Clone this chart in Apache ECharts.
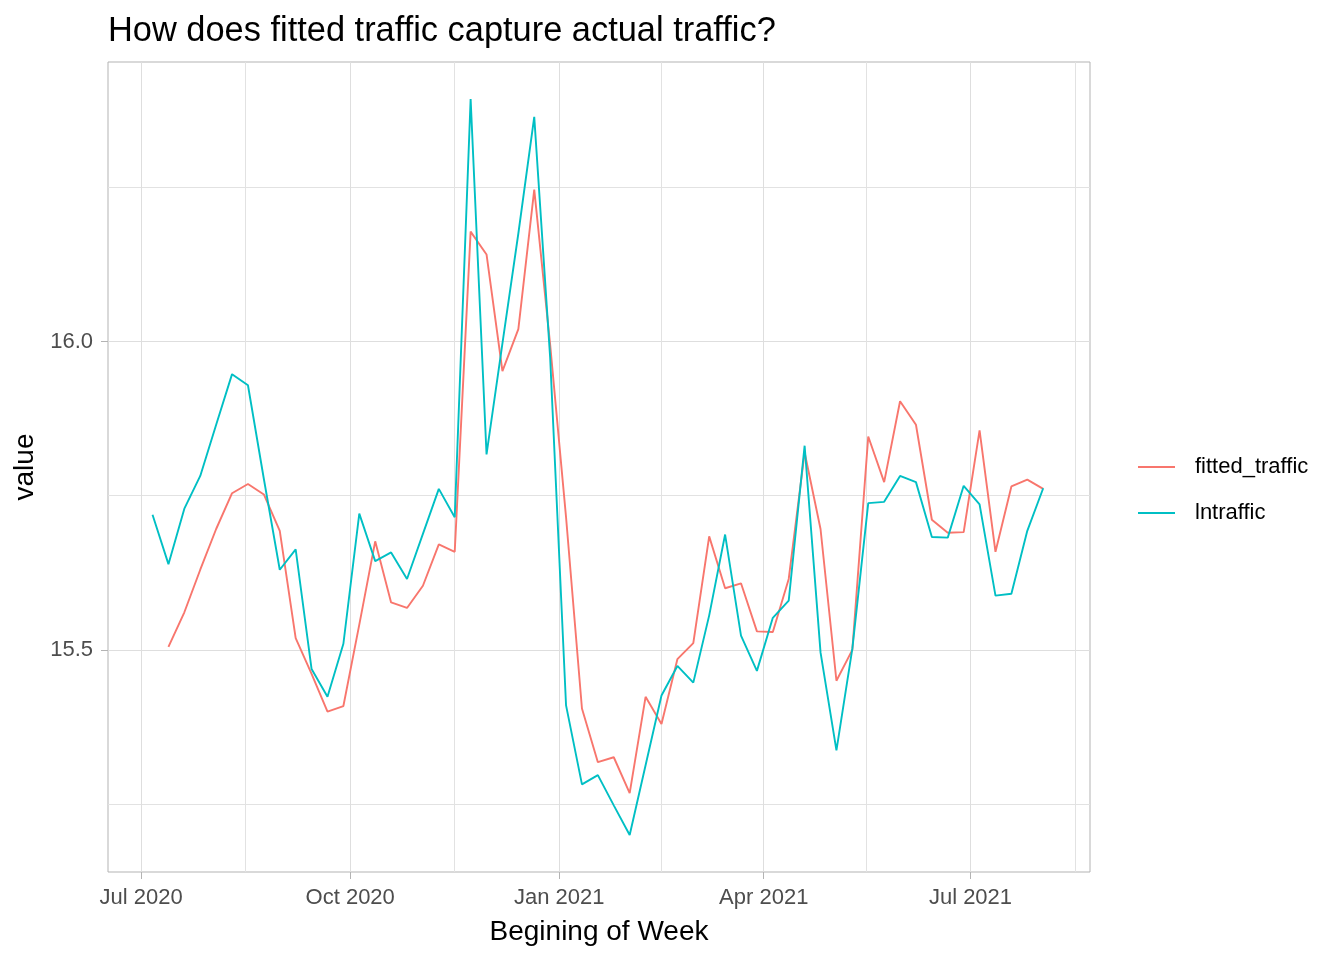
<!DOCTYPE html>
<html>
<head>
<meta charset="utf-8">
<script src="https://cdn.jsdelivr.net/npm/echarts@6/dist/echarts.min.js"></script>
<style>html,body{margin:0;padding:0;background:#fff}#c{width:1344px;height:960px}</style>
</head>
<body>
<div id="c"></div>
<script>
// ---- data ----
const weekDates = [
  '2020-07-06','2020-07-13','2020-07-20','2020-07-27','2020-08-03','2020-08-10','2020-08-17','2020-08-24','2020-08-31',
  '2020-09-07','2020-09-14','2020-09-21','2020-09-28','2020-10-05','2020-10-12','2020-10-19','2020-10-26',
  '2020-11-02','2020-11-09','2020-11-16','2020-11-23','2020-11-30','2020-12-07','2020-12-14','2020-12-21','2020-12-28',
  '2021-01-04','2021-01-11','2021-01-18','2021-01-25','2021-02-01','2021-02-08','2021-02-15','2021-02-22',
  '2021-03-01','2021-03-08','2021-03-15','2021-03-22','2021-03-29','2021-04-05','2021-04-12','2021-04-19','2021-04-26',
  '2021-05-03','2021-05-10','2021-05-17','2021-05-24','2021-05-31','2021-06-07','2021-06-14','2021-06-21','2021-06-28',
  '2021-07-05','2021-07-12','2021-07-19','2021-07-26','2021-08-02'
];
const lntraffic = [
  15.719, 15.639, 15.729, 15.782, 15.865, 15.947, 15.929, 15.777, 15.630,
  15.663, 15.469, 15.424, 15.510, 15.721, 15.644, 15.658, 15.615,
  15.688, 15.761, 15.715, 16.393, 15.817, 15.997, 16.175, 16.364, 15.974,
  15.410, 15.282, 15.297, 15.248, 15.200, 15.313, 15.426, 15.474,
  15.447, 15.556, 15.687, 15.523, 15.466, 15.552, 15.580, 15.831, 15.496,
  15.337, 15.502, 15.738, 15.740, 15.782, 15.772, 15.683, 15.682, 15.766,
  15.736, 15.588, 15.591, 15.693, 15.762
];
const fittedTraffic = [
  null, 15.505, 15.561, 15.630, 15.696, 15.754, 15.769, 15.752, 15.693,
  15.519, 15.461, 15.400, 15.409, 15.541, 15.676, 15.577, 15.568,
  15.604, 15.671, 15.659, 16.178, 16.141, 15.952, 16.020, 16.246, 15.995,
  15.715, 15.405, 15.318, 15.326, 15.268, 15.424, 15.380, 15.485,
  15.511, 15.684, 15.600, 15.608, 15.530, 15.529, 15.615, 15.820, 15.696,
  15.450, 15.500, 15.846, 15.772, 15.903, 15.865, 15.711, 15.690, 15.691,
  15.856, 15.659, 15.765, 15.776, 15.761
];
const xTickDates = ['2020-07-01','2020-10-01','2021-01-01','2021-04-01','2021-07-01'];
const xTickLabels = ['Jul 2020','Oct 2020','Jan 2021','Apr 2021','Jul 2021'];
const xMinorDates = ['2020-08-16','2020-11-16','2021-02-15','2021-05-16','2021-08-16'];
const yTicks = [15.5, 16.0];
const yTickLabels = ['15.5','16.0'];
const yMinor = [15.25, 15.75, 16.25];
const seriesNames = ['fitted_traffic','lntraffic'];

// ---- chart ----
const toTs = s => Date.parse(s);
const xTickTs = xTickDates.map(toTs);
const xMin = Date.parse('2020-06-16T09:36:00Z');
const xMax = Date.parse('2021-08-22T14:24:00Z');
const FONT = '"Liberation Sans", Arial, sans-serif';

const gridMajor = {color: '#DEDEDE', width: 1, type: 'solid'};
const gridMinor = {color: '#E2E2E2', width: 1, type: 'solid'};
const gridLines = []
  .concat(yTicks.map(v => ({yAxis: v, lineStyle: gridMajor})))
  .concat(yMinor.map(v => ({yAxis: v, lineStyle: gridMinor})))
  .concat(xTickTs.map(t => ({xAxis: t, lineStyle: gridMajor})))
  .concat(xMinorDates.map(d => ({xAxis: toTs(d), lineStyle: gridMinor})));

const chart = echarts.init(document.getElementById('c'), null, {renderer: 'canvas'});
chart.setOption({
  animation: false,
  backgroundColor: '#ffffff',
  textStyle: {fontFamily: FONT},
  title: {
    text: 'How does fitted traffic capture actual traffic?',
    left: 108, top: 15, padding: 0,
    textStyle: {fontSize: 34.4, fontWeight: 'normal', color: '#000000', fontFamily: FONT}
  },
  grid: {
    left: 108, right: 254, top: 62, bottom: 88,
    show: true, borderColor: '#B3B3B3', borderWidth: 1, backgroundColor: 'rgba(0,0,0,0)',
    containLabel: false, outerBoundsMode: 'none'
  },
  legend: {
    orient: 'vertical', left: 1138, top: 456, padding: 0,
    itemWidth: 37, itemHeight: 2, itemGap: 24, icon: 'rect',
    selectedMode: false,
    itemStyle: {borderWidth: 0},
    textStyle: {fontSize: 22, lineHeight: 22, color: '#000000', fontFamily: FONT, padding: [0, 0, 0, 15]},
    data: seriesNames
  },
  xAxis: {
    type: 'value', min: xMin, max: xMax, scale: true,
    axisLine: {show: false},
    splitLine: {show: false},
    axisTick: {show: true, customValues: xTickTs, length: 7, lineStyle: {color: '#B3B3B3', width: 1}},
    axisLabel: {
      customValues: xTickTs,
      formatter: function (v) {
        for (let i = 0; i < xTickTs.length; i++) if (Math.abs(xTickTs[i] - v) < 1000) return xTickLabels[i];
        return '';
      },
      color: '#4D4D4D', fontSize: 22, margin: 15, fontFamily: FONT
    },
    name: 'Begining of Week', nameLocation: 'middle', nameGap: 46,
    nameTextStyle: {fontSize: 28, color: '#000000', fontFamily: FONT}
  },
  yAxis: {
    type: 'value', min: 15.14, max: 16.453, scale: true,
    axisLine: {show: false},
    splitLine: {show: false},
    axisTick: {show: true, customValues: yTicks, length: 7, lineStyle: {color: '#B3B3B3', width: 1}},
    axisLabel: {
      customValues: yTicks,
      formatter: function (v) {
        for (let i = 0; i < yTicks.length; i++) if (Math.abs(yTicks[i] - v) < 1e-6) return yTickLabels[i];
        return '';
      },
      color: '#4D4D4D', fontSize: 22, margin: 15, fontFamily: FONT, padding: [4, 0, 0, 0]
    },
    name: 'value', nameLocation: 'middle', nameGap: 54, nameRotate: 90,
    nameTextStyle: {fontSize: 28, color: '#000000', fontFamily: FONT}
  },
  series: [
    {
      name: seriesNames[0], type: 'line', z: 3,
      data: weekDates.map((d, i) => [toTs(d), fittedTraffic[i]]),
      showSymbol: false, symbol: 'none', connectNulls: false,
      color: '#F8766D',
      lineStyle: {width: 1.9, color: '#F8766D'},
      itemStyle: {color: '#F8766D'},
      emphasis: {disabled: true},
      markLine: {
        z: 1, silent: true, symbol: ['none', 'none'], animation: false,
        label: {show: false}, emphasis: {disabled: true},
        data: gridLines
      }
    },
    {
      name: seriesNames[1], type: 'line', z: 4,
      data: weekDates.map((d, i) => [toTs(d), lntraffic[i]]),
      showSymbol: false, symbol: 'none',
      color: '#00BFC4',
      lineStyle: {width: 1.9, color: '#00BFC4'},
      itemStyle: {color: '#00BFC4'},
      emphasis: {disabled: true}
    }
  ]
});
</script>
</body>
</html>
